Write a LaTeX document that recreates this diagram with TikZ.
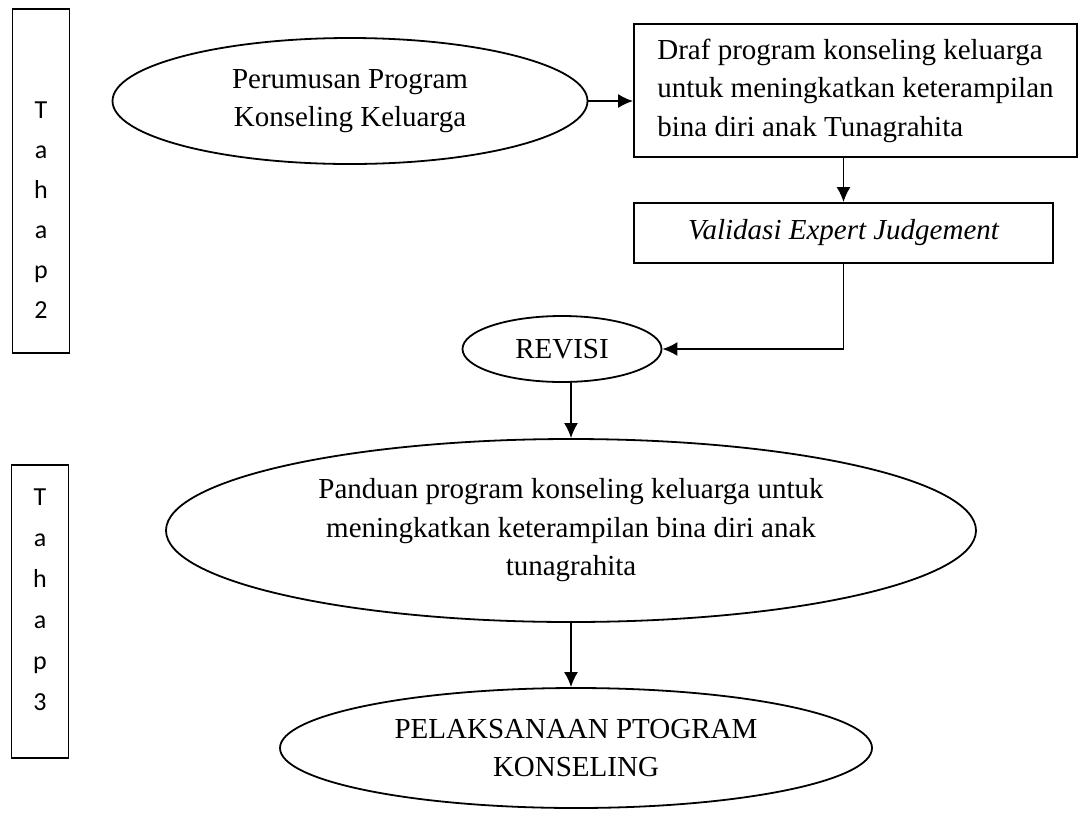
\documentclass[tikz,border=0pt]{standalone}
\usepackage{fontspec}
\setmainfont{Liberation Serif}
\newfontfamily\tahapfont{Carlito}
\usetikzlibrary{shapes.geometric, arrows.meta}

\begin{document}
\begin{tikzpicture}[x=1pt, y=-1pt, line width=1.8pt,
		>={Latex[length=15pt, width=14pt]},
		txt/.style={font=\fontsize{29}{38.5}\selectfont, align=center},
		oval/.style={txt, draw, ellipse, inner sep=0pt},
		box/.style={txt, draw, rectangle, inner sep=0pt},
		tahapbox/.style={draw, rectangle, minimum width=57pt, inner sep=0pt},
		tahapletter/.style={font=\tahapfont\fontsize{26}{30}\selectfont, anchor=base, inner sep=0pt}]

		\useasboundingbox (0,0) rectangle (1079,812);

		% kotak tahap di kiri
		\node[tahapbox, minimum height=344pt] (tahap2) at (41, 181) {};
		\foreach \ch [count=\i] in {T,a,h,a,p,2} {
				\node[tahapletter] (t2-\i) at (41, 78+40*\i) {\ch};
			}

		\node[tahapbox, minimum height=293pt] (tahap3) at (40, 611.5) {};
		\foreach \ch [count=\i] in {T,a,h,a,p,3} {
				\node[tahapletter] (t3-\i) at (40, 464+41*\i) {\ch};
			}

		% alur tahap 2
		\node[oval, minimum width=475pt, minimum height=126pt] (perumusan) at (350, 101)
			{Perumusan Program\\Konseling Keluarga};

		\node[box, align=left, minimum width=443pt, minimum height=133pt] (draf) at (855.5, 90.5)
			{Draf program konseling keluarga\\untuk meningkatkan keterampilan\\bina diri anak Tunagrahita};

		\node[box, minimum width=419pt, minimum height=60pt] (validasi) at (843.5, 233)
			{\itshape Validasi Expert Judgement};

		\node[oval, minimum width=199pt, minimum height=66pt] (revisi) at (562, 349) {REVISI};

		% alur tahap 3
		\node[oval, minimum width=810pt, minimum height=183pt] (panduan) at (571, 530.5)
			{Panduan program konseling keluarga untuk\\meningkatkan keterampilan bina diri anak\\tunagrahita};

		\node[oval, minimum width=592pt, minimum height=120pt] (pelaksanaan) at (576, 748)
			{PELAKSANAAN PTOGRAM\\KONSELING};

		\draw[->] (perumusan.east) -- (perumusan.east -| draf.west);
		\draw[->] (validasi.north |- draf.south) -- (validasi.north);
		\draw[->] (validasi.south) |- (revisi.east);
		\draw[->] (panduan.north |- revisi.south) -- (panduan.north);
		\draw[->] (panduan.south) -- (panduan.south |- pelaksanaan.north);
	\end{tikzpicture}
\end{document}
